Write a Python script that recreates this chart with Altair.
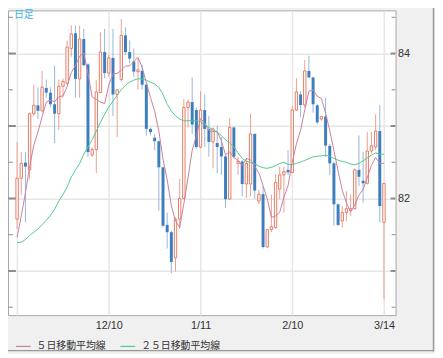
import altair as alt
import pandas as pd

# ---- data (prices) ----
opens = [81.715, 82.28, 82.495, 82.395, 83.17, 83.285, 83.21, 83.525, 83.46, 83.30,
         83.17, 83.55, 83.59, 84.07, 84.28, 83.65, 84.20, 83.85, 82.60, 82.675,
         83.46, 84.02, 83.73, 83.94, 83.435, 83.64, 84.25, 84.02, 83.89, 83.75,
         83.76, 83.57, 82.96, 82.84, 82.79, 82.43, 81.635, 81.535, 81.18, 81.715,
         82.00, 83.255, 83.33, 83.22, 82.71, 83.22, 82.96, 82.78, 82.765, 82.71,
         82.58, 81.99, 82.98, 82.485, 82.51, 82.20, 82.20, 82.89, 81.965, 82.06,
         81.33, 81.57, 81.60, 82.13, 82.325, 82.395, 82.36, 83.22, 83.435, 83.29,
         83.76, 83.67, 83.285, 83.095, 83.13, 82.725, 82.485, 81.92, 81.69, 81.805,
         81.84, 81.86, 82.395, 82.245, 82.21, 82.655, 82.71, 82.93, 81.67]
highs = [82.78, 82.64, 82.64, 83.185, 83.57, 83.535, 83.76, 83.64, 83.535, 83.83,
         83.64, 83.66, 84.18, 84.39, 84.39, 84.385, 84.34, 83.865, 82.71, 83.63,
         84.29, 84.34, 83.98, 84.34, 83.50, 84.475, 84.36, 84.18, 84.07, 83.93,
         83.84, 83.59, 82.98, 82.89, 82.80, 82.44, 81.805, 81.56, 81.74, 82.27,
         83.37, 83.37, 83.67, 83.255, 83.48, 83.435, 83.14, 82.98, 83.005, 82.846,
         82.60, 83.11, 82.99, 82.575, 82.53, 82.55, 83.17, 82.90, 82.12, 82.17,
         81.58, 82.055, 82.34, 82.44, 82.44, 82.665, 83.275, 83.66, 83.48, 83.91,
         83.97, 83.68, 83.30, 83.14, 83.39, 82.755, 82.51, 81.93, 81.895, 82.10,
         82.055, 82.415, 82.87, 82.64, 82.915, 82.915, 83.16, 83.29, 82.21]
lows = [81.58, 82.055, 81.67, 82.26, 83.14, 83.095, 83.185, 83.39, 83.255, 82.765,
        82.945, 83.39, 83.57, 83.955, 83.39, 83.39, 83.82, 82.575, 82.575, 82.35,
        83.46, 83.66, 83.68, 83.14, 82.846, 83.615, 83.98, 83.865, 83.68, 83.50,
        83.50, 82.87, 82.87, 82.665, 81.83, 81.60, 81.31, 80.97, 80.99, 81.58,
        81.99, 82.98, 82.89, 82.69, 82.69, 82.71, 82.575, 82.415, 82.35, 82.325,
        81.87, 81.99, 82.55, 82.325, 82.03, 82.01, 82.03, 82.00, 81.92, 81.31,
        81.32, 81.535, 81.58, 81.99, 81.805, 82.325, 82.35, 83.21, 83.12, 83.255,
        83.66, 83.185, 83.03, 83.07, 82.575, 82.325, 81.625, 81.625, 81.60, 81.69,
        81.76, 81.85, 82.17, 81.94, 82.19, 82.62, 82.665, 81.67, 80.61]
closes = [82.28, 82.485, 82.44, 83.17, 83.285, 83.21, 83.535, 83.46, 83.30, 83.17,
          83.55, 83.615, 84.09, 84.27, 83.65, 84.20, 83.84, 82.64, 82.675, 83.47,
          84.02, 83.73, 83.94, 83.435, 83.50, 84.25, 84.02, 83.93, 83.75, 83.775,
          83.57, 82.96, 82.915, 82.79, 82.43, 81.625, 81.535, 81.125, 81.715, 82.00,
          83.255, 83.33, 83.02, 82.71, 83.22, 82.96, 82.78, 82.96, 82.71, 82.58,
          81.99, 82.98, 82.575, 82.51, 82.20, 82.485, 82.89, 82.11, 82.06, 81.33,
          81.57, 81.61, 82.22, 82.325, 82.37, 82.36, 83.22, 83.47, 83.29, 83.76,
          83.67, 83.30, 83.05, 83.13, 82.73, 82.485, 81.92, 81.635, 81.805, 81.86,
          81.86, 82.395, 82.30, 82.21, 82.655, 82.725, 82.93, 81.895, 82.21]
ma5 = [81.466, 81.76, 82.077, 82.44, 82.733, 82.918, 83.127, 83.33, 83.357, 83.335,
       83.403, 83.416, 83.543, 83.738, 83.833, 83.964, 84.009, 83.72, 83.403, 83.367,
       83.33, 83.308, 83.566, 83.72, 83.724, 83.769, 83.828, 83.828, 83.891, 83.946,
       83.81, 83.597, 83.394, 83.204, 82.932, 82.543, 82.258, 81.90, 81.688, 81.602,
       81.928, 82.285, 82.665, 82.864, 83.104, 83.045, 82.937, 82.923, 82.923, 82.796,
       82.602, 82.643, 82.566, 82.525, 82.453, 82.552, 82.534, 82.439, 82.353, 82.177,
       81.996, 81.738, 81.76, 81.81, 82.018, 82.177, 82.498, 82.751, 82.941, 83.222,
       83.48, 83.498, 83.412, 83.38, 83.177, 82.937, 82.661, 82.38, 82.113, 81.941,
       81.815, 81.91, 82.045, 82.127, 82.285, 82.457, 82.566, 82.484, 82.484]
ma25 = [81.389, 81.398, 81.434, 81.489, 81.534, 81.579, 81.638, 81.701, 81.769, 81.851,
        81.964, 82.054, 82.158, 82.294, 82.394, 82.484, 82.611, 82.71, 82.81, 82.928,
        83.05, 83.163, 83.262, 83.344, 83.425, 83.502, 83.561, 83.606, 83.633, 83.652,
        83.647, 83.633, 83.606, 83.579, 83.534, 83.434, 83.299, 83.208, 83.14, 83.095,
        83.072, 83.072, 83.081, 83.072, 83.059, 83.018, 82.982, 82.946, 82.914, 82.869,
        82.81, 82.765, 82.71, 82.629, 82.552, 82.516, 82.498, 82.475, 82.448, 82.425,
        82.416, 82.43, 82.453, 82.484, 82.498, 82.471, 82.466, 82.484, 82.502, 82.525,
        82.548, 82.575, 82.584, 82.588, 82.597, 82.584, 82.552, 82.529, 82.511, 82.498,
        82.475, 82.466, 82.484, 82.52, 82.561, 82.597, 82.629, 82.611, 82.611]

tick_idx = [0, 22, 44, 66, 88]
tick_labels = ["", "12/10", "1/11", "2/10", "3/14"]
y_grid = [81, 82, 83, 84]
y_major_ticks = [81, 82, 83, 84]
y_minor_ticks = [80.5, 81.5, 82.5, 83.5, 84.5]
series_names = ["５日移動平均線", "２５日移動平均線"]
title_text = "日足"

# ---- styles ----
UP = "#e57c66"
UP_WICK = "#eda08f"
DOWN = "#3d7ebf"
DOWN_WICK = "#93b7da"
PINK = "#c97f9f"
GREEN = "#4fca8c"
GRID = "#e6e6e6"
TICK = "#8a8a8a"
TXT = "#333333"

n = len(opens)
df = pd.DataFrame({"i": list(range(n)), "open": opens, "high": highs,
                   "low": lows, "close": closes})
ma = pd.DataFrame({"i": list(range(n)) * 2, "value": ma5 + ma25,
                   "series": [series_names[0]] * n + [series_names[1]] * n})
one = pd.DataFrame({"a": [0]})

xscale = alt.Scale(domain=[-1.0, 89.6], nice=False, zero=False)
yscale = alt.Scale(domain=[80.391, 84.595], nice=False, zero=False)

label_expr = " : ".join(f"datum.value == {v} ? '{t}'" for v, t in zip(tick_idx, tick_labels)) + " : ''"

xaxis = alt.Axis(values=tick_idx, labelExpr=label_expr, grid=True, gridColor=GRID,
                 gridWidth=1.5, ticks=False, tickSize=0, domain=False, title=None,
                 labelFont="Liberation Sans", labelFontSize=11, labelColor=TXT,
                 labelPadding=5, labelFlush=False, labelOverlap=False)
yaxis = alt.Axis(values=y_grid, orient="right", grid=True, gridColor=GRID, gridWidth=1.5,
                 ticks=False, tickSize=0, domain=False, title=None,
                 labelExpr="datum.value % 2 == 0 ? datum.label : ''",
                 labelFont="Liberation Sans", labelFontSize=11, labelColor=TXT,
                 labelPadding=2)

X = alt.X("i:Q", scale=xscale, axis=xaxis)

def Y(field):
    return alt.Y(field, scale=yscale, axis=yaxis)

up_f = "datum.close >= datum.open"
down_f = "datum.close < datum.open"

wick_up = alt.Chart(df).transform_filter(up_f).mark_rule(strokeWidth=1, color=UP_WICK).encode(
    x=X, y=Y("low:Q"), y2="high:Q")
wick_down = alt.Chart(df).transform_filter(down_f).mark_rule(strokeWidth=1, color=DOWN_WICK).encode(
    x=X, y=Y("low:Q"), y2="high:Q")
body_up = alt.Chart(df).transform_filter(up_f).mark_bar(
    size=2.4, fill="white", stroke=UP, strokeWidth=1).encode(x=X, y=Y("open:Q"), y2="close:Q")
body_down = alt.Chart(df).transform_filter(down_f).mark_bar(
    size=3, color=DOWN).encode(x=X, y=Y("open:Q"), y2="close:Q")

lines = alt.Chart(ma).mark_line(strokeWidth=1).encode(
    x=X, y=Y("value:Q"),
    color=alt.Color("series:N", scale=alt.Scale(domain=series_names, range=[PINK, GREEN]),
                    legend=alt.Legend(orient="none", legendX=7, legendY=332, direction="horizontal",
                                      title=None, symbolType="stroke", symbolSize=225,
                                      symbolStrokeWidth=1.2, labelFont="Noto Sans CJK JP",
                                      labelFontSize=10, labelColor=TXT, columnPadding=12,
                                      labelOffset=5, padding=0)))

tmaj = pd.DataFrame({"v": y_major_ticks})
tmin = pd.DataFrame({"v": y_minor_ticks})
r_major = alt.Chart(tmaj).mark_rule(strokeWidth=2, color=TICK).encode(
    x=alt.value(388), x2=alt.value(393), y=Y("v:Q"))
r_minor = alt.Chart(tmin).mark_rule(strokeWidth=1, color=TICK).encode(
    x=alt.value(389), x2=alt.value(393), y=Y("v:Q"))
l_major = alt.Chart(tmaj).mark_rule(strokeWidth=2, color=TICK).encode(
    x=alt.value(0), x2=alt.value(8), y=Y("v:Q"))
l_minor = alt.Chart(tmin).mark_rule(strokeWidth=1, color=TICK).encode(
    x=alt.value(0), x2=alt.value(5), y=Y("v:Q"))

frame_r = alt.Chart(one).mark_rule(strokeWidth=1.5, color="#9a9a9a").encode(
    x=alt.value(431.5), y=alt.value(-8), y2=alt.value(346))
frame_b = alt.Chart(one).mark_rule(strokeWidth=1.5, color="#9a9a9a").encode(
    x=alt.value(-8), x2=alt.value(432), y=alt.value(345))

label = alt.Chart(one).mark_text(text=title_text, align="left", baseline="middle", fontSize=10,
                                 font="Noto Sans CJK JP", color="#3fb5e5").encode(
    x=alt.value(6), y=alt.value(5))

chart = alt.layer(wick_up, wick_down, body_up, body_down, lines,
                  r_major, r_minor, l_major, l_minor, frame_r, frame_b, label).properties(
    width=393, height=309,
    padding={"left": 0, "top": 0, "right": 40, "bottom": 37},
    autosize=alt.AutoSizeParams(type="none"),
    background="#f0f0f0",
).configure_view(fill="white", stroke="#a8a8a8", strokeWidth=1)

chart.save("out.html", embed_options={"renderer": "svg", "actions": False})
